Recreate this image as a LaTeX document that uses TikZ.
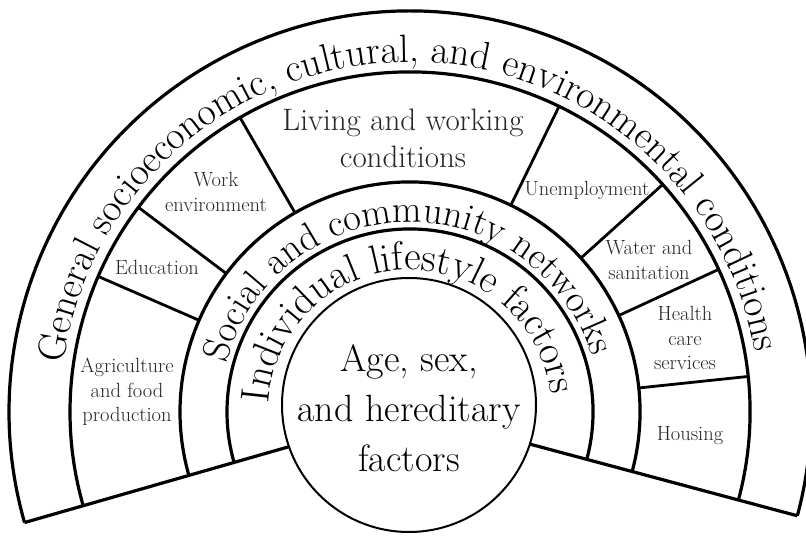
\documentclass[tikz,border=0pt]{standalone}
\usepackage{fontspec}
\usetikzlibrary{decorations.text}
\begin{document}
\begin{tikzpicture}[x=1pt,y=1pt,
  band/.style={line width=3.2pt},
  divider/.style={line width=2.8pt},
  lab/.style={align=center, font=\fontsize{20.5}{24.5}\selectfont, text=black!85, inner sep=0pt},
  arctext/.style={decorate, decoration={text along path, text align=center, text={#1}}}
]
\useasboundingbox (0,0) rectangle (806,538);
\coordinate (C) at (410,126);
\begin{scope}[shift={(C)}]
  \draw[band] (196:120) -- (196:401);
  \draw[band] (-15:120) -- (-15:401);
  \foreach \r in {401,340,230,183}
    \draw[band] (-15:\r) arc[start angle=-15, end angle=196, radius=\r];
  \foreach \a in {156.5,143,120,64,42,24.8,6}
    \draw[divider] (\a:230) -- (\a:340);
  \path[arctext={|\fontsize{39.5}{40}\selectfont|General socioeconomic, cultural, and environmental conditions}]
    (180.9:350) arc[start angle=180.9, end angle=0.9, radius=350];
  \path[arctext={|\fontsize{38.3}{40}\selectfont|Social and community networks}]
    (181:190) arc[start angle=181, end angle=1, radius=190];
  \path[arctext={|\fontsize{40.5}{40}\selectfont|Individual lifestyle factors}]
    (181.7:142) arc[start angle=181.7, end angle=1.7, radius=142];
\end{scope}
\node[circle, draw, line width=2pt, fill=white, minimum size=254pt, inner sep=0pt] (core) at (409,133) {};
\node[align=center, font=\fontsize{38}{50}\selectfont, inner sep=0pt] (age) at (409,130) {Age, sex,\\and hereditary\\factors};
\node[lab] (agri) at (127,146) {Agriculture\\and food\\production};
\node[lab] (edu) at (157,271) {Education};
\node[lab] (work) at (216,346) {Work\\environment};
\node[lab, font=\fontsize{31}{37}\selectfont] (living) at (403,400) {Living and working\\conditions};
\node[lab] (unemp) at (587,348) {Unemployment};
\node[lab] (water) at (649,278) {Water and\\sanitation};
\node[lab] (health) at (685,200) {Health\\care\\services};
\node[lab] (housing) at (690,102) {Housing};
\end{tikzpicture}
\end{document}
